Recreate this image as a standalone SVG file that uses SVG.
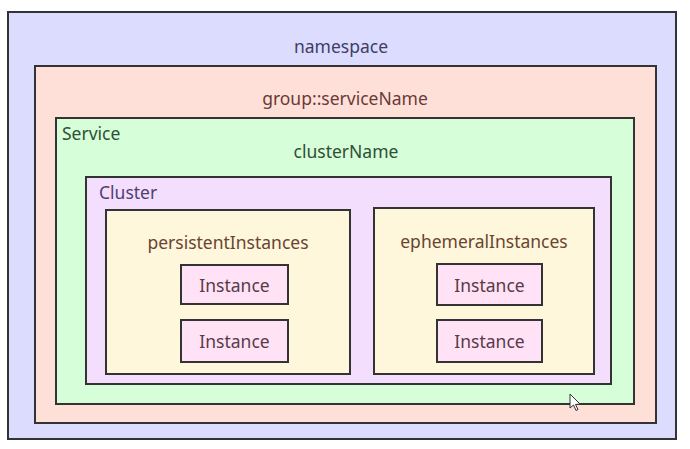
<svg xmlns="http://www.w3.org/2000/svg" width="690" height="449" viewBox="0 0 690 449">
<style>
rect.box{stroke:#333;stroke-width:2}
text{font-family:"Noto Sans","Open Sans","Liberation Sans",sans-serif;font-size:17.5px}
.c{text-anchor:middle}
</style>
<rect width="690" height="449" fill="#ffffff"/>
<g id="namespace">
<rect class="box" x="8" y="12" width="668" height="427" fill="#dcdcfe"/>
<text class="c" x="341" y="53" fill="#3e3e66">namespace</text>
</g>
<g id="group">
<rect class="box" x="35" y="66" width="621" height="357" fill="#ffe0d9"/>
<text class="c" x="345" y="105" fill="#6a3a36">group::serviceName</text>
</g>
<g id="service">
<rect class="box" x="56" y="118" width="578" height="286" fill="#d6fed8"/>
<text x="62" y="140" fill="#2f4f36">Service</text>
<text class="c" x="346" y="158" fill="#2f4f36">clusterName</text>
</g>
<g id="cluster">
<rect class="box" x="86" y="177" width="525" height="207" fill="#f4defe"/>
<text x="99" y="199" fill="#4f3f72">Cluster</text>
</g>
<g id="persistentInstances">
<rect class="box" x="106" y="210" width="244" height="164" fill="#fff7db"/>
<text class="c" x="228" y="249" fill="#6a4432">persistentInstances</text>
</g>
<g id="ephemeralInstances">
<rect class="box" x="374" y="208" width="220" height="166" fill="#fff7db"/>
<text class="c" x="484" y="248" fill="#6a4432">ephemeralInstances</text>
</g>
<g id="instance1">
<rect class="box" x="181" y="265" width="107" height="39" fill="#ffe2f5"/>
<text class="c" x="234.5" y="292" fill="#5a3a48">Instance</text>
</g>
<g id="instance2">
<rect class="box" x="181" y="320" width="107" height="42" fill="#ffe2f5"/>
<text class="c" x="234.5" y="348" fill="#5a3a48">Instance</text>
</g>
<g id="instance3">
<rect class="box" x="437" y="264" width="105" height="41" fill="#ffe2f5"/>
<text class="c" x="489.5" y="292" fill="#5a3a48">Instance</text>
</g>
<g id="instance4">
<rect class="box" x="437" y="320" width="105" height="42" fill="#ffe2f5"/>
<text class="c" x="489.5" y="348" fill="#5a3a48">Instance</text>
</g>
<g id="connectors"></g>
<path d="M570 394 L570 408 L573.5 405 L576 410.5 L578 409.5 L575.5 404.5 L580 404 Z" fill="#ffffff" stroke="#333" stroke-width="1"/>
</svg>
